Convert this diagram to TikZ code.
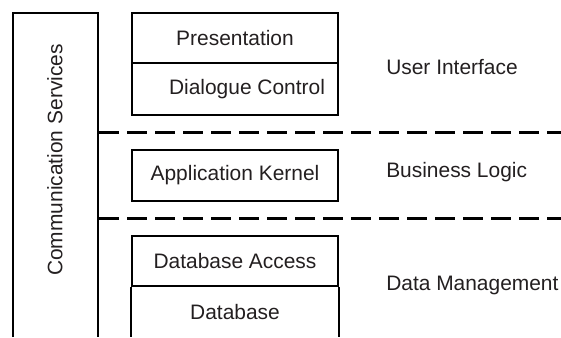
\documentclass[tikz,border=0pt]{standalone}
\usepackage{fontspec}
\setmainfont{Liberation Sans}
\usepackage{xcolor}
\usepackage{tikz}

\definecolor{inkgray}{RGB}{35,31,32}

\begin{document}
\begin{tikzpicture}[x=0.75pt,y=0.75pt,yscale=-1,xscale=1,
  every node/.style={font=\fontsize{15.7}{18}\selectfont, text=inkgray},
  layerbox/.style={draw=black, line width=1.5pt, minimum width=154.5pt, inner sep=0pt},
  tierline/.style={line width=2.25pt, dash pattern={on 15pt off 6pt}},
  tierlabel/.style={anchor=west, inner sep=0.75pt}]
\useasboundingbox (0,0) rectangle (561,337);

%Shape: Communication Services frame
\draw [line width=1.5pt]  (13,337) -- (13,13) -- (98,13) -- (98,337) ;
\node [rotate=90] (comm) at (55,160) {Communication Services};

%Shape: Rectangles
\node [layerbox, minimum height=37.5pt] (pres) at (235,38) {Presentation};
\node [layerbox, minimum height=39pt] (dlg) at (235,89) {\hspace*{18pt}Dialogue Control};
\node [layerbox, minimum height=38.25pt] (kern) at (235,175.5) {Application Kernel};
\node [layerbox, minimum height=37.5pt] (dbacc) at (235,261) {Database Access};
\node (db) at (235,312) {Database};

%Straight Lines (open bottom box)
\coordinate (bottom) at (0,337);
\draw [line width=1.5pt]  (dbacc.south west) -- (dbacc.south west |- bottom) ;
\draw [line width=1.5pt]  (dbacc.south east) -- (dbacc.south east |- bottom) ;

%Straight Lines (tier borders)
\draw [tierline]  (99,132) -- (561,132) ;
\draw [tierline]  (99,218) -- (561,218) ;

% Text Node
\node [tierlabel] (ui) at (385,67) {User Interface};
% Text Node
\node [tierlabel] (logic) at (385,172) {Business Logic};
% Text Node
\node [tierlabel] (data) at (385,285) {Data Management};

\end{tikzpicture}
\end{document}
